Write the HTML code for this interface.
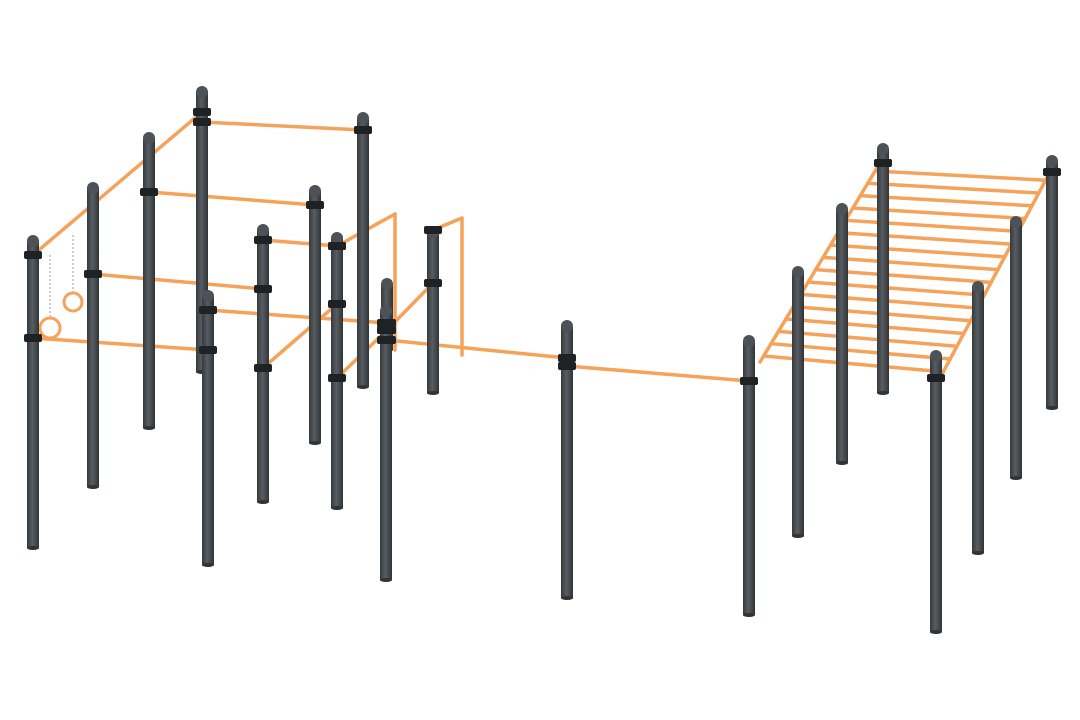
<!DOCTYPE html>
<html><head><meta charset="utf-8"><style>
html,body{margin:0;padding:0;background:#fff;width:1080px;height:720px;overflow:hidden}
</style></head><body>
<svg id="s" width="1080" height="720" viewBox="0 0 1080 720" xmlns="http://www.w3.org/2000/svg">
<defs>
<linearGradient id="pg" x1="0" x2="1" y1="0" y2="0">
<stop offset="0" stop-color="#363a3e"/><stop offset="0.45" stop-color="#575d62"/><stop offset="1" stop-color="#303437"/>
</linearGradient>
</defs>
<g id="bars"></g>
<g id="posts"></g>
</svg>
<script>
const NS='http://www.w3.org/2000/svg';
const posts=[[202,86,372],[363,112,387],[149,132,428],[93,182,487],[33,235,548],[315,185,443],[433,226,393],[263,224,502],[337,232,508],[208,290,565],[387,278,350],[386,305,580],[567,320,598],[883,143,393],[1052,155,408],[842,203,463],[1016,216,478],[798,266,536],[978,281,553],[749,335,615],[936,350,632]];
const bars=[[202,122,363,130],[149,192,315,205],[93,274,263,289],[33,338,208,350],[33,255,202,112],[263,240,337,246],[208,310,387,323],[337,246,395,214],[395,214,395,350],[387,330,433,283],[433,230,462,218],[462,218,462,355],[263,368,337,304],[337,378,387,330],[387,340,567,358],[567,366,749,381],[760,362,880,163],[940,378,1050,172]];
const gb=document.getElementById('bars'),gp=document.getElementById('posts');
function el(t,a,p){const e=document.createElementNS(NS,t);for(const k in a)e.setAttribute(k,a[k]);p.appendChild(e);return e;}
bars.forEach(b=>{const l=el('line',{x1:b[0],y1:b[1],x2:b[2],y2:b[3],stroke:'#f5a25a','stroke-width':3.5,'stroke-linecap':'round'},gb);

});
for(let i=0;i<16;i++){const t=0.03+i*0.062;const x1=760+120*t,y1=362-199*t,x2=940+110*t,y2=378-206*t;
const l=el('line',{x1:x1,y1:y1,x2:x2,y2:y2,stroke:'#f5a25a','stroke-width':3.5,'stroke-linecap':'round'},gb);

}
[[50,255,318,328,10],[73,235,292,302,9]].forEach(r=>{
const rope=el('line',{x1:r[0],y1:r[1],x2:r[0],y2:r[2],stroke:'#999','stroke-width':1,'stroke-dasharray':'2 2'},gb);


const c=el('circle',{cx:r[0],cy:r[3],r:r[4],fill:'none',stroke:'#f5a25a','stroke-width':3},gb);

});
posts.forEach(p=>{const [x,t,b]=p;const g=el('g',{},gp);


el('rect',{x:x-6,y:t+6,width:12,height:b-t-6,fill:'url(#pg)'},g);
el('ellipse',{cx:x,cy:t+6,rx:6,ry:6,fill:'#4c5257'},g);
el('ellipse',{cx:x,cy:b,rx:6,ry:2,fill:'#303437'},g);
bars.forEach(br=>{[[br[0],br[1]],[br[2],br[3]]].forEach(q=>{if(Math.abs(q[0]-x)<6&&q[1]>t&&q[1]<b){el('rect',{x:x-9,y:q[1]-4,width:18,height:8,rx:2,fill:'#1f2225'},g);}});});
});
</script>
</body></html>
